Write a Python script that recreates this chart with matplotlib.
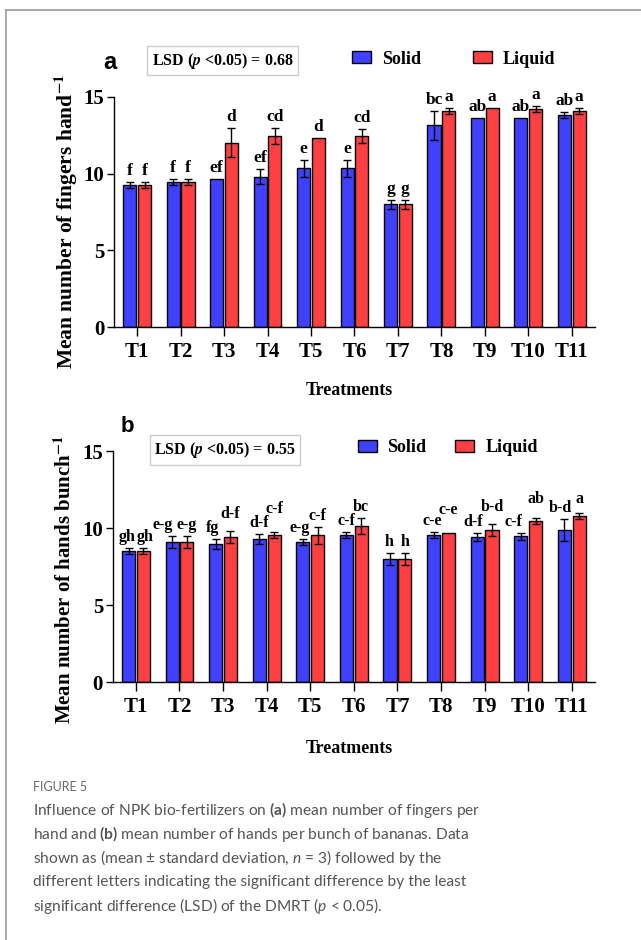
import matplotlib.pyplot as plt
import numpy as np
from matplotlib.lines import Line2D
from matplotlib.patches import Patch

plt.rcParams['mathtext.fontset'] = 'custom'
plt.rcParams['mathtext.rm'] = 'Lato'
plt.rcParams['mathtext.bf'] = 'Lato:bold'
plt.rcParams['mathtext.it'] = 'Lato:italic'

treatments = ['T1', 'T2', 'T3', 'T4', 'T5', 'T6', 'T7', 'T8', 'T9', 'T10', 'T11']

# (a) fingers per hand
fingers_solid = [9.25, 9.45, 9.65, 9.8, 10.35, 10.35, 8.0, 13.15, 13.65, 13.65, 13.8]
fingers_solid_sd = [0.2, 0.2, 0, 0.5, 0.55, 0.55, 0.3, 0.95, 0, 0, 0.2]
fingers_liquid = [9.25, 9.45, 12.0, 12.45, 12.35, 12.45, 8.0, 14.1, 14.3, 14.2, 14.1]
fingers_liquid_sd = [0.2, 0.2, 0.95, 0.5, 0, 0.45, 0.3, 0.2, 0, 0.2, 0.2]
fingers_solid_letters = ['f', 'f', 'ef', 'ef', 'e', 'e', 'g', 'bc', 'ab', 'ab', 'ab']
fingers_liquid_letters = ['f', 'f', 'd', 'cd', 'd', 'cd', 'g', 'a', 'a', 'a', 'a']

# (b) hands per bunch
hands_solid = [8.55, 9.1, 9.0, 9.33, 9.1, 9.55, 8.0, 9.55, 9.45, 9.47, 9.9]
hands_solid_sd = [0.2, 0.4, 0.33, 0.33, 0.2, 0.18, 0.38, 0.18, 0.25, 0.25, 0.7]
hands_liquid = [8.55, 9.1, 9.44, 9.55, 9.55, 10.13, 8.0, 9.68, 9.9, 10.45, 10.8]
hands_liquid_sd = [0.2, 0.4, 0.4, 0.18, 0.55, 0.52, 0.38, 0, 0.38, 0.2, 0.2]
hands_solid_letters = ['gh', 'e-g', 'fg', 'd-f', 'e-g', 'c-f', 'h', 'c-e', 'd-f', 'c-f', 'b-d']
hands_liquid_letters = ['gh', 'e-g', 'd-f', 'c-f', 'c-f', 'bc', 'h', 'c-e', 'b-d', 'ab', 'a']

# letter nudges in points for panel b (solid shifted left, liquid lifted) as in the figure
shift_b_solid = [-1, -7, -2.5, 0, -2, 0, -1, -1, -3, -5, -3]
shift_b_liquid = [1, 0, 0, 0, 0, 0, 0, 0, 0, 0, 0]
lift_b = [0, 0, 4, 9, 0, 0, 0, 9, 4, 6, 2]

BLUE = '#4040ff'
RED = '#ff4043'
SERIF = 'Liberation Serif'


def draw_panel(ax, solid, solid_sd, liquid, liquid_sd, let_s, let_l, dx_s, dx_l, lift, fs,
               ylabel, ylfs, ylpos, xlpos):
    x = np.arange(len(treatments))
    xs = x - 0.17
    xl = x + 0.17
    ax.bar(xs, solid, 0.3, color=BLUE, edgecolor='black', linewidth=1, zorder=2)
    ax.bar(xl, liquid, 0.3, color=RED, edgecolor='black', linewidth=1, zorder=2)
    for xx, v, sd in list(zip(xs, solid, solid_sd)) + list(zip(xl, liquid, liquid_sd)):
        if sd > 0:
            ax.errorbar(xx, v, yerr=sd, fmt='none', ecolor='black', elinewidth=1,
                        capsize=3, capthick=1, zorder=3)
    for i in range(len(treatments)):
        ax.annotate(let_s[i], (xs[i], solid[i] + solid_sd[i]), xytext=(dx_s[i], 5),
                    textcoords='offset points', ha='center', va='baseline',
                    fontsize=fs, fontweight='bold', family=SERIF)
        ax.annotate(let_l[i], (xl[i], liquid[i] + liquid_sd[i]), xytext=(dx_l[i], 5 + lift[i]),
                    textcoords='offset points', ha='center', va='baseline',
                    fontsize=fs, fontweight='bold', family=SERIF)
    ax.set_xlim(-0.53, len(treatments) - 0.47)
    ax.set_ylim(0, 15)
    ax.set_yticks([0, 5, 10, 15])
    ax.set_xticks(x)
    ax.set_xticklabels(treatments)
    for lab in ax.get_xticklabels() + ax.get_yticklabels():
        lab.set_family(SERIF)
        lab.set_fontweight('bold')
        lab.set_fontsize(15)
    ax.tick_params(axis='x', length=6.5, width=1, pad=4)
    ax.tick_params(axis='y', length=5, width=1, pad=2)
    ax.spines['top'].set_visible(False)
    ax.spines['right'].set_visible(False)
    for s in ['left', 'bottom']:
        ax.spines[s].set_linewidth(1)
    ax.set_ylabel(ylabel, family=SERIF, fontweight='bold', fontsize=ylfs,
                  math_fontfamily='stix', va='center')
    ax.yaxis.set_label_coords(-0.1, ylpos)
    ax.set_xlabel('Treatments', family=SERIF, fontweight='bold', fontsize=13)
    ax.xaxis.set_label_coords(0.49, xlpos)


fig = plt.figure(figsize=(6.41, 9.4), dpi=100)

zeros = [0] * len(treatments)
ax1 = fig.add_axes([0.178, 0.652, 0.750, 0.245])
draw_panel(ax1, fingers_solid, fingers_solid_sd, fingers_liquid, fingers_liquid_sd,
           fingers_solid_letters, fingers_liquid_letters, zeros, zeros, zeros, 12.5,
           r'Mean number of fingers hand$^{\mathbf{-1}}$', 15.5, 0.457, -0.24)

ax2 = fig.add_axes([0.176, 0.274, 0.752, 0.246])
draw_panel(ax2, hands_solid, hands_solid_sd, hands_liquid, hands_liquid_sd,
           hands_solid_letters, hands_liquid_letters, shift_b_solid, shift_b_liquid, lift_b,
           11.5, r'Mean number of hands bunch$^{\mathbf{-1}}$', 15, 0.445, -0.25)

# panel letters
fig.text(0.172, 0.934, 'a', family='Liberation Sans', fontweight='bold', fontsize=17,
         ha='center', va='center')
fig.text(0.198, 0.546, 'b', family='Liberation Sans', fontweight='bold', fontsize=16,
         ha='center', va='center')

# LSD boxes
box = dict(boxstyle='square,pad=0.3', facecolor='white', edgecolor='#cccccc', linewidth=1)
fig.text(0.347, 0.9356, r'LSD ($\mathbfit{p}$ <0.05) = 0.68', family=SERIF, fontweight='bold',
         fontsize=11.5, ha='center', va='center', bbox=box, math_fontfamily='stix')
fig.text(0.351, 0.521, r'LSD ($\mathbfit{p}$ <0.05) = 0.55', family=SERIF, fontweight='bold',
         fontsize=11.5, ha='center', va='center', bbox=box, math_fontfamily='stix')

# legends
handles = [Patch(facecolor=BLUE, edgecolor='black', label='Solid'),
           Patch(facecolor=RED, edgecolor='black', label='Liquid')]
legprops = dict(family=SERIF, weight='bold', size=13)
fig.legend(handles=handles, loc='center left', bbox_to_anchor=(0.549, 0.937), ncol=2,
           frameon=False, prop=legprops, handlelength=1.05, handleheight=0.65,
           handletextpad=0.6, columnspacing=2.9, borderpad=0, borderaxespad=0)
fig.legend(handles=handles, loc='center left', bbox_to_anchor=(0.558, 0.524), ncol=2,
           frameon=False, prop=legprops, handlelength=1.05, handleheight=0.65,
           handletextpad=0.6, columnspacing=1.6, borderpad=0, borderaxespad=0)

# page frame
fig.add_artist(Line2D([6 / 641, 6 / 641], [0, 1 - 10 / 940], color='#9a9a9a', linewidth=1.2))
fig.add_artist(Line2D([6 / 641, 1], [1 - 10 / 940, 1 - 10 / 940], color='#9a9a9a', linewidth=1.2))

# caption
fig.text(33 / 641, 1 - 787 / 940, 'FIGURE 5', family='Lato', fontsize=9, color='#6a6a6a',
         va='center')
caption = [
    r'Influence of NPK bio-fertilizers on $\mathbf{(a)}$ mean number of fingers per',
    r'hand and $\mathbf{(b)}$ mean number of hands per bunch of bananas. Data',
    r'shown as (mean ± standard deviation, $\mathit{n}$ = 3) followed by the',
    'different letters indicating the significant difference by the least',
    r'significant difference (LSD) of the DMRT ($\mathit{p}$ < 0.05).',
]
for i, line in enumerate(caption):
    fig.text(33 / 641, 1 - (810 + 24 * i) / 940, line, family='Lato', fontsize=11.15,
             color='#555555', va='center')

fig.savefig('out.png', dpi=100)
